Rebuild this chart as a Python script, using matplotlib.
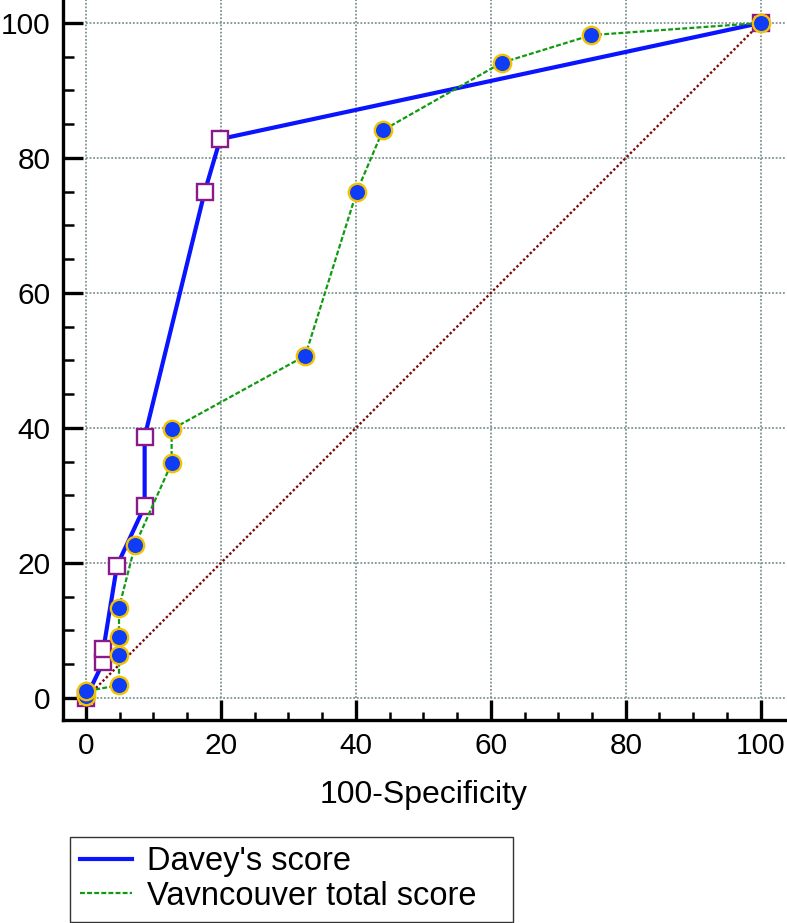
import matplotlib
matplotlib.use("Agg")
import matplotlib.pyplot as plt
import numpy as np

plt.rcParams['font.family'] = ['Liberation Sans', 'DejaVu Sans']

# Data (100-Specificity, Sensitivity)
davey_x = [0, 2.6, 2.6, 4.6, 8.7, 8.7, 17.6, 19.9, 100]
davey_y = [0, 5.4, 7.3, 19.6, 28.4, 38.7, 75.0, 82.8, 100]

vanc_x = [0, 0, 4.9, 4.9, 4.9, 4.9, 7.3, 12.7, 12.7, 32.5, 40.1, 44.0, 61.6, 74.9, 100]
vanc_y = [0.3, 1.0, 1.9, 6.4, 9.1, 13.4, 22.7, 34.8, 39.8, 50.7, 74.9, 84.1, 94.1, 98.2, 100]

ref_x = [0, 100]
ref_y = [0, 100]

major_ticks = [0, 20, 40, 60, 80, 100]
minor_ticks = [5, 10, 15, 25, 30, 35, 45, 50, 55, 65, 70, 75, 85, 90, 95]
tick_labels = ["0", "20", "40", "60", "80", "100"]

W, H = 787, 923
fig = plt.figure(figsize=(W / 100, H / 100), dpi=100)
ax = fig.add_axes([63 / W, 203 / H, (785 - 63) / W, 720 / H])
ax.set_xlim(-3.4, 103.6)
ax.set_ylim(-3.26, 103.4)

# grid
grid_kw = dict(color='#7f9393', linewidth=1.3, linestyle=(0, (1, 1)), zorder=1)
ax.hlines(major_ticks, 0, ax.get_xlim()[1], **grid_kw)
ax.vlines(major_ticks, 0, ax.get_ylim()[1], **grid_kw)

# reference diagonal
ax.plot(ref_x, ref_y, color='#7a0a0a', linewidth=1.7, linestyle=(0, (1, 1)), zorder=2)

# Davey's score
ax.plot(davey_x, davey_y, color='#0a14ff', linewidth=3.0, label="Davey's score", zorder=3)
ax.plot(davey_x, davey_y, linestyle='none', marker='s', markersize=12,
        markerfacecolor='white', markeredgecolor='#8a1a8a', markeredgewidth=1.7, zorder=4)

# Vancouver total score
ax.plot(vanc_x, vanc_y, color='#109a10', linewidth=1.6, dashes=(2.2, 1.0),
        label="Vavncouver total score", zorder=5)
ax.plot(vanc_x, vanc_y, linestyle='none', marker='o', markersize=12.5,
        markerfacecolor='#0f3cf5', markeredgecolor='#f2c200', markeredgewidth=1.7, zorder=6)

# axes styling
for s in ['top', 'right']:
    ax.spines[s].set_visible(False)
for s in ['left', 'bottom']:
    ax.spines[s].set_linewidth(2.4)
    ax.spines[s].set_color('black')

ax.set_xticks(major_ticks)
ax.set_xticklabels(tick_labels)
ax.set_yticks(major_ticks)
ax.set_yticklabels(tick_labels)
ax.set_xticks(minor_ticks, minor=True)
ax.set_yticks(minor_ticks, minor=True)
ax.tick_params(axis='both', which='major', direction='in', length=14.5, width=2.4,
               labelsize=21.5, pad=9, colors='black')
ax.tick_params(axis='y', which='minor', direction='in', length=8, width=1.8)
ax.tick_params(axis='x', which='minor', direction='in', length=5.5, width=1.8)

ax.set_xlabel("100-Specificity", fontsize=23, labelpad=14)

leg = fig.legend(loc='lower left', bbox_to_anchor=(70 / W, 1.5 / H, 443 / W, 89 / H),
                 mode='expand', borderaxespad=0,
                 fontsize=23.5, frameon=True, fancybox=False, handlelength=1.6,
                 handletextpad=0.45, labelspacing=0.1, borderpad=0.3)
leg.get_frame().set_edgecolor('black')
leg.get_frame().set_linewidth(1.0)

fig.savefig("out.png", dpi=100)
